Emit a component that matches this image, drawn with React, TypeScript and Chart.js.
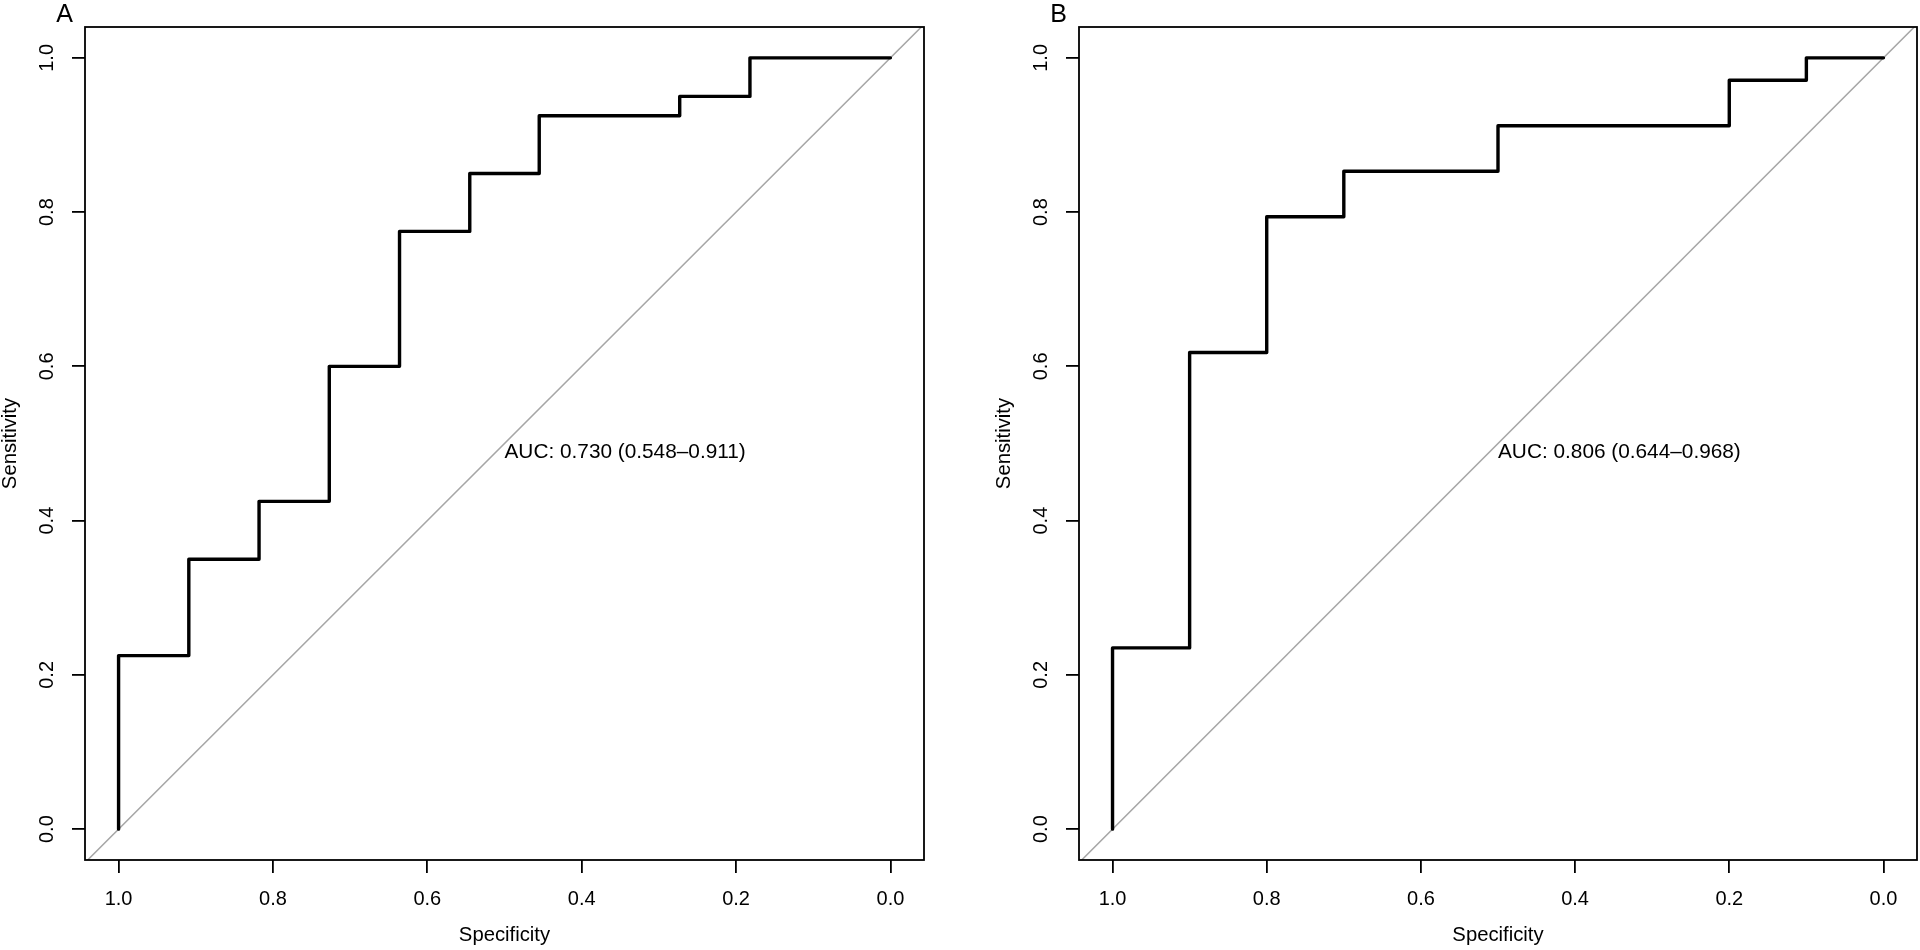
import React, { useEffect, useRef } from "react";
import { Chart, registerables } from "chart.js";

Chart.register(...registerables);

const FONT = "'Liberation Sans', Arial, Helvetica, sans-serif";

// Axis ticks and limits
const tickValues = [0, 0.2, 0.4, 0.6, 0.8, 1.0];
const xLimits = [-0.0435, 1.0435];
const yLimits = [-0.04, 1.04];

// Panel A ROC curve vertices (specificity, sensitivity)
const specA = [1.0, 1.0, 0.909, 0.909, 0.818, 0.818, 0.727, 0.727, 0.636, 0.636, 0.545, 0.545, 0.455, 0.455, 0.273, 0.273, 0.182, 0.182, 0.0];
const sensA = [0.0, 0.225, 0.225, 0.35, 0.35, 0.425, 0.425, 0.6, 0.6, 0.775, 0.775, 0.85, 0.85, 0.925, 0.925, 0.95, 0.95, 1.0, 1.0];

// Panel B ROC curve vertices
const specB = [1.0, 1.0, 0.9, 0.9, 0.8, 0.8, 0.7, 0.7, 0.5, 0.5, 0.2, 0.2, 0.1, 0.1, 0.0];
const sensB = [0.0, 0.235, 0.235, 0.618, 0.618, 0.794, 0.794, 0.853, 0.853, 0.912, 0.912, 0.971, 0.971, 1.0, 1.0];

// Chance (identity) line
const diagSpec = [1.1, -0.1];
const diagSens = [-0.1, 1.1];

// Texts
const panelLabels = ["A", "B"];
const aucTexts = ["AUC: 0.730 (0.548–0.911)", "AUC: 0.806 (0.644–0.968)"];
const aucAnchor = [0.5, 0.5];
const xTitle = "Specificity";
const yTitle = "Sensitivity";

const overlayPlugin = {
  id: "overlay",
  afterDatasetsDraw(chart: any, _args: any, opts: any) {
    const { ctx, chartArea: a, scales } = chart;
    ctx.save();
    ctx.strokeStyle = "#000";
    ctx.lineWidth = 1.8;
    ctx.strokeRect(a.left, a.top, a.right - a.left, a.bottom - a.top);
    ctx.fillStyle = "#000";
    ctx.font = `20.8px ${FONT}`;
    ctx.textAlign = "left";
    ctx.textBaseline = "alphabetic";
    ctx.fillText(
      opts.auc,
      scales.x.getPixelForValue(aucAnchor[0]),
      scales.y.getPixelForValue(aucAnchor[1]) + 14.6
    );
    ctx.font = `25px ${FONT}`;
    ctx.textAlign = "center";
    ctx.fillText(opts.label, a.left - 20.5, 21.7);
    ctx.restore();
  },
};

function Panel(props: { left: number; width: number; rightPad: number; spec: number[]; sens: number[]; label: string; auc: string }) {
  const ref = useRef<HTMLCanvasElement>(null);
  useEffect(() => {
    if (!ref.current) return;
    const chart = new Chart(ref.current, {
      type: "scatter",
      data: {
        datasets: [
          {
            data: props.spec.map((s, i) => ({ x: s, y: props.sens[i] })),
            showLine: true,
            borderColor: "#000",
            borderWidth: 3.4,
            pointRadius: 0,
            tension: 0,
            borderJoinStyle: "round",
            borderCapStyle: "round",
          },
          {
            data: diagSpec.map((s, i) => ({ x: s, y: diagSens[i] })),
            showLine: true,
            borderColor: "#a6a6a6",
            borderWidth: 1.5,
            pointRadius: 0,
            clip: 0,
          },
        ],
      },
      options: {
        animation: false,
        responsive: false,
        devicePixelRatio: 1,
        events: [],
        layout: { padding: { left: 0, top: 27, right: props.rightPad, bottom: 0 } },
        plugins: {
          legend: { display: false },
          tooltip: { enabled: false },
          overlay: { label: props.label, auc: props.auc },
        } as any,
        scales: {
          x: {
            type: "linear",
            reverse: true,
            min: xLimits[0],
            max: xLimits[1],
            afterBuildTicks: (s: any) => {
              s.ticks = tickValues.map((v) => ({ value: v }));
            },
            afterFit: (s: any) => {
              s.height = 90;
            },
            grid: { display: true, drawOnChartArea: false, drawTicks: true, tickLength: 13, color: "#000", lineWidth: 1.8 },
            border: { display: false },
            ticks: {
              autoSkip: false,
              color: "#000",
              padding: 14,
              maxRotation: 0,
              font: { family: FONT, size: 20 },
              callback: (v: any) => Number(v).toFixed(1),
            },
            title: {
              display: true,
              text: xTitle,
              color: "#000",
              font: { family: FONT, size: 20.3 },
              padding: { top: 0, bottom: 2 },
            },
          },
          y: {
            type: "linear",
            min: yLimits[0],
            max: yLimits[1],
            afterBuildTicks: (s: any) => {
              s.ticks = tickValues.map((v) => ({ value: v }));
            },
            afterFit: (s: any) => {
              s.width = 85;
            },
            grid: { display: true, drawOnChartArea: false, drawTicks: true, tickLength: 13, color: "#000", lineWidth: 1.8 },
            border: { display: false },
            ticks: {
              autoSkip: false,
              color: "#000",
              padding: 11,
              minRotation: 90,
              maxRotation: 90,
              crossAlign: "center",
              font: { family: FONT, size: 20 },
              callback: (v: any) => Number(v).toFixed(1),
            },
            title: {
              display: true,
              text: yTitle,
              color: "#000",
              font: { family: FONT, size: 20.3, lineHeight: 1.05 },
              padding: 0,
            },
          },
        },
      },
      plugins: [overlayPlugin as any],
    });
    return () => chart.destroy();
  }, []);
  return (
    <canvas
      ref={ref}
      width={props.width}
      height={950}
      style={{ position: "absolute", left: props.left, top: 0, width: props.width, height: 950 }}
    />
  );
}

export default function App() {
  return (
    <div style={{ position: "absolute", left: 0, top: 0, width: 1920, height: 950, background: "#fff", overflow: "hidden" }}>
      <Panel left={0} width={960} rightPad={36} spec={specA} sens={sensA} label={panelLabels[0]} auc={aucTexts[0]} />
      <Panel left={994} width={926} rightPad={3} spec={specB} sens={sensB} label={panelLabels[1]} auc={aucTexts[1]} />
    </div>
  );
}
